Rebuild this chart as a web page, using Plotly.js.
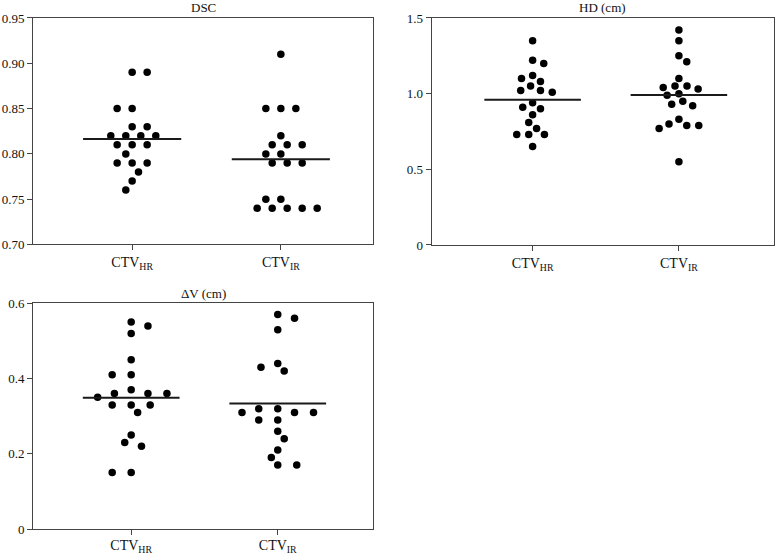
<!DOCTYPE html>
<html>
<head>
<meta charset="utf-8">
<script src="https://cdn.plot.ly/plotly-3.0.1.min.js"></script>
<style>
  html, body { margin: 0; padding: 0; background: #fff; }
  #chart { width: 776px; height: 555px; }
</style>
</head>
<body>
<div id="chart"></div>
<script>
// groups on the x axis
const groups = ['CTV<sub>HR</sub>', 'CTV<sub>IR</sub>'];

// DSC
const dscHR = [0.89, 0.89, 0.85, 0.85, 0.83, 0.83, 0.82, 0.82, 0.82, 0.82, 0.81, 0.81, 0.81, 0.80, 0.79, 0.79, 0.79, 0.78, 0.77, 0.76];
const dscIR = [0.91, 0.85, 0.85, 0.85, 0.82, 0.81, 0.81, 0.81, 0.80, 0.80, 0.79, 0.79, 0.79, 0.75, 0.75, 0.74, 0.74, 0.74, 0.74, 0.74];

// HD (cm)
const hdHR = [1.35, 1.22, 1.20, 1.12, 1.10, 1.08, 1.05, 1.02, 1.02, 1.01, 0.94, 0.91, 0.90, 0.86, 0.81, 0.77, 0.73, 0.73, 0.73, 0.65];
const hdIR = [1.42, 1.35, 1.25, 1.21, 1.10, 1.05, 1.05, 1.04, 1.03, 1.00, 0.99, 0.95, 0.93, 0.92, 0.83, 0.80, 0.79, 0.79, 0.77, 0.55];

// dV (cm)
const dvHR = [0.55, 0.54, 0.52, 0.45, 0.41, 0.41, 0.37, 0.36, 0.36, 0.36, 0.35, 0.33, 0.33, 0.33, 0.31, 0.25, 0.23, 0.22, 0.15, 0.15];
const dvIR = [0.57, 0.56, 0.53, 0.44, 0.43, 0.42, 0.32, 0.32, 0.31, 0.31, 0.31, 0.29, 0.29, 0.26, 0.24, 0.21, 0.19, 0.17, 0.17];

const W = 776, H = 555;
const FONT = '"Liberation Serif", "Times New Roman", serif';

let panels = [
    { title: 'DSC',     hr: dscHR, ir: dscIR, xdom: [0.0425, 0.4807], ydom: [0.5595, 0.9676], xr: [-0.667, 1.62], yr: [0.70, 0.95],
      tickvals: [0.70, 0.75, 0.80, 0.85, 0.90, 0.95], ticktext: ['0.70', '0.75', '0.80', '0.85', '0.90', '0.95'], sw: 15, sh: 10 },
    { title: 'HD (cm)', hr: hdHR,  ir: hdIR,  xdom: [0.5563, 0.9974], ydom: [0.5586, 0.9676], xr: [-0.69, 1.65], yr: [0, 1.5],
      tickvals: [0, 0.5, 1.0, 1.5], ticktext: ['0', '0.5', '1.0', '1.5'], sw: 12, sh: 8 },
    { title: '\u0394V (cm)', hr: dvHR, ir: dvIR, xdom: [0.0425, 0.4807], ydom: [0.0468, 0.4535], xr: [-0.67, 1.65], yr: [0, 0.6],
      tickvals: [0, 0.2, 0.4, 0.6], ticktext: ['0', '0.2', '0.4', '0.6'], sw: 19, sh: 8 }
];

// simple beeswarm: put every dot as close to the centre as it can go
// without touching (elliptic distance sw x sh px) the dots already placed
function swarm(vals, pxX, pxY, sw, sh) {
    let order = vals.map((v, i) => i).sort((a, b) => vals[b] - vals[a]);
    let placed = [];
    let offs = new Array(vals.length);
    let side = 1;

    order.forEach(i => {
        let y = vals[i] * pxY;
        let cands = [0];
        placed.forEach(p => {
            let dy = Math.abs(p.y - y);
            if (dy < sh) {
                let dx = sw * Math.sqrt(1 - (dy / sh) * (dy / sh));
                cands.push(p.x + dx, p.x - dx);
            }
        });
        cands.sort((a, b) => Math.abs(a) - Math.abs(b) || (b - a) * side);
        let ok = c => placed.every(p => {
            let ex = (p.x - c) / sw, ey = (p.y - y) / sh;
            return ex * ex + ey * ey >= 0.999;
        });
        let x = cands.find(ok);
        if (x !== 0) side = -Math.sign(x);
        placed.push({ x: x, y: y });
        offs[i] = x / pxX;
    });
    return offs;
}

const mean = arr => arr.reduce((s, v) => s + v, 0) / arr.length;

let data = [];
let layout = {
    width: W,
    height: H,
    margin: { l: 0, r: 0, t: 0, b: 0 },
    paper_bgcolor: '#fff',
    plot_bgcolor: '#fff',
    showlegend: false,
    font: { family: FONT, size: 13, color: '#111' },
    annotations: []
};

panels.forEach((p, k) => {
    let n = k === 0 ? '' : (k + 1);
    let xa = 'x' + n, ya = 'y' + n;

    let pxX = (p.xdom[1] - p.xdom[0]) * W / (p.xr[1] - p.xr[0]);
    let pxY = (p.ydom[1] - p.ydom[0]) * H / (p.yr[1] - p.yr[0]);

    [p.hr, p.ir].forEach((vals, g) => {
        let offs = swarm(vals, pxX, pxY, p.sw, p.sh);

        data.push({
            x: offs.map(o => g + o),
            y: vals,
            xaxis: xa,
            yaxis: ya,
            type: 'scatter',
            mode: 'markers',
            marker: { color: '#000', size: 7.5 },
            hoverinfo: 'y'
        });

        let m = mean(vals);
        data.push({
            x: [g - 0.33, g + 0.33],
            y: [m, m],
            xaxis: xa,
            yaxis: ya,
            type: 'scatter',
            mode: 'lines',
            line: { color: '#1a1a1a', width: 2 },
            hoverinfo: 'skip'
        });
    });

    layout['xaxis' + n] = {
        domain: p.xdom,
        anchor: ya,
        range: p.xr,
        tickvals: [0, 1],
        ticktext: groups,
        ticks: 'outside',
        ticklen: 5,
        tickcolor: '#444',
        showline: true,
        linecolor: '#444',
        linewidth: 1,
        mirror: true,
        showgrid: false,
        zeroline: false,
        fixedrange: true,
        tickfont: { family: FONT, size: 14, color: '#111' }
    };

    layout['yaxis' + n] = {
        domain: p.ydom,
        anchor: xa,
        range: p.yr,
        tickvals: p.tickvals,
        ticktext: p.ticktext,
        ticks: 'outside',
        ticklen: 5,
        tickcolor: '#444',
        showline: true,
        linecolor: '#444',
        linewidth: 1,
        mirror: true,
        showgrid: false,
        zeroline: false,
        fixedrange: true,
        tickfont: { family: FONT, size: 13, color: '#111' }
    };

    layout.annotations.push({
        text: p.title,
        xref: 'paper',
        yref: 'paper',
        x: (p.xdom[0] + p.xdom[1]) / 2,
        y: p.ydom[1] + 10 / H,
        xanchor: 'center',
        yanchor: 'middle',
        showarrow: false,
        font: { family: FONT, size: 13, color: '#111' }
    });
});

// bottom panel sits close to the page edge: pull its labels up a little
layout.xaxis3.ticklabelstandoff = -2;

Plotly.newPlot('chart', data, layout, { displayModeBar: false, staticPlot: true });
</script>
</body>
</html>
